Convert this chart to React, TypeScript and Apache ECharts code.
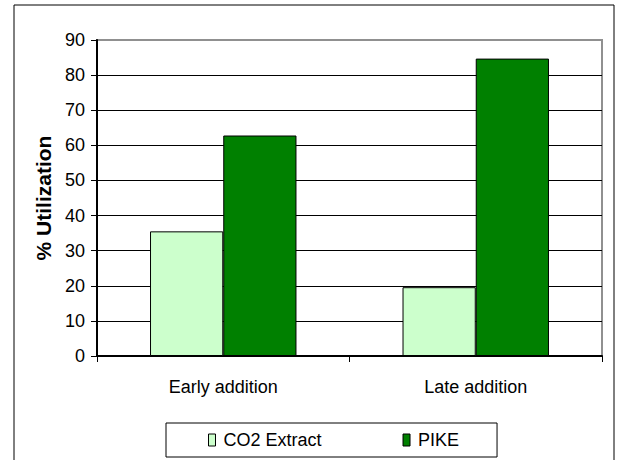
import React, { useEffect, useRef } from "react";
import * as echarts from "echarts";

const categories = ["Early addition", "Late addition"];
const co2Extract = [35.5, 19.6];
const pike = [62.8, 84.7];
const seriesNames = ["CO2 Extract", "PIKE"];

const FONT = "'Liberation Sans', Arial, sans-serif";

export default function App() {
  const ref = useRef<HTMLDivElement>(null);
  useEffect(() => {
    if (!ref.current) return;
    const chart = echarts.init(ref.current, undefined, { renderer: "svg" });
    const gridColors = ["#000", "#000", "#000", "#000", "#000", "#000", "#000", "#000", "#000", "#909090"];
    chart.setOption({
      animation: false,
      backgroundColor: "#fff",
      textStyle: { fontFamily: FONT },
      grid: {
        left: 97,
        right: 16,
        top: 40,
        bottom: 104,
        show: true,
        borderColor: "#909090",
        borderWidth: 2,
      },
      graphic: [
        {
          type: "rect",
          shape: { x: 14, y: 5, width: 600, height: 470 },
          style: { fill: "none", stroke: "#000", lineWidth: 1 },
          silent: true,
        },
      ],
      legend: {
        left: 166,
        top: 423,
        padding: [8, 38, 8, 42],
        itemGap: 81,
        itemWidth: 7,
        itemHeight: 12,
        itemStyle: { borderColor: "#000", borderWidth: 1 },
        borderColor: "#000",
        borderWidth: 1,
        textStyle: { fontSize: 18, color: "#000", fontFamily: FONT, padding: [0, 0, 0, 3] },
        data: seriesNames.map((n) => ({ name: n, icon: "rect" })),
      },
      xAxis: {
        type: "category",
        data: categories,
        axisLine: { lineStyle: { color: "#000", width: 2 } },
        axisTick: { show: true, length: 6, lineStyle: { color: "#000", width: 1 } },
        axisLabel: { fontSize: 18, color: "#000", margin: 22, fontFamily: FONT },
        splitLine: { show: false },
      },
      yAxis: {
        type: "value",
        min: 0,
        max: 90,
        interval: 10,
        name: "% Utilization",
        nameLocation: "middle",
        nameRotate: 90,
        nameGap: 38,
        nameTextStyle: { fontSize: 21, fontWeight: "bold", color: "#000", fontFamily: FONT },
        axisLine: { show: true, lineStyle: { color: "#000", width: 2 } },
        axisTick: { show: true, length: 6, inside: false, lineStyle: { color: "#000" } },
        axisLabel: { fontSize: 18, color: "#000", margin: 12, fontFamily: FONT },
        splitLine: { show: true, lineStyle: { color: gridColors, width: 1 } },
      },
      series: [
        {
          name: seriesNames[0],
          type: "bar",
          data: co2Extract,
          barGap: "0%",
          barCategoryGap: "42%",
          itemStyle: { color: "#CCFFCC", borderColor: "#000", borderWidth: 1 },
        },
        {
          name: seriesNames[1],
          type: "bar",
          data: pike,
          barGap: "0%",
          barCategoryGap: "42%",
          itemStyle: { color: "#008000", borderColor: "#000", borderWidth: 1 },
        },
      ],
    });
    return () => chart.dispose();
  }, []);
  return (
    <div
      ref={ref}
      style={{ position: "fixed", left: 0, top: 0, width: 618, height: 460 }}
    />
  );
}
